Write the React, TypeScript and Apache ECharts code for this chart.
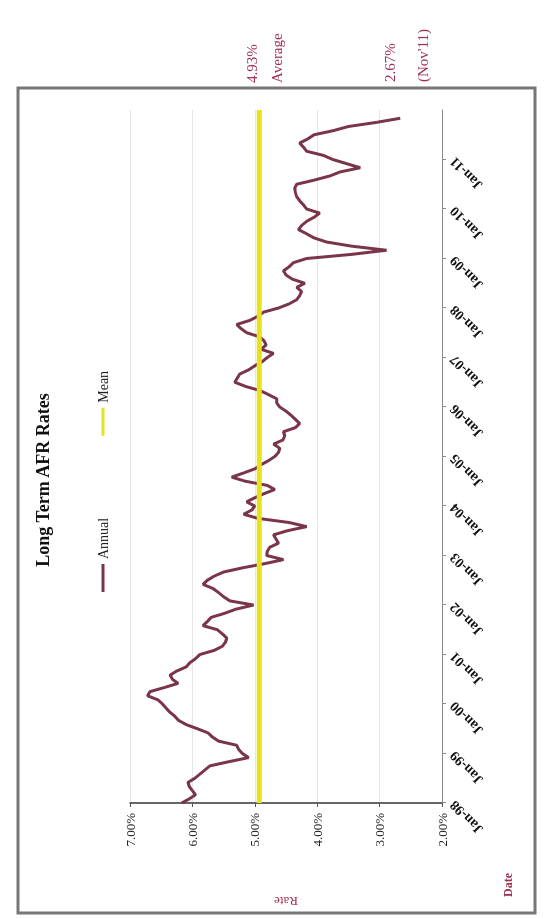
import React, { useEffect, useRef } from "react";
import * as echarts from "echarts";

// ---- data ----
const years = [1998, 1999, 2000, 2001, 2002, 2003, 2004, 2005, 2006, 2007, 2008, 2009, 2010, 2011, 2012];
const monthNames = ["Jan", "Feb", "Mar", "Apr", "May", "Jun", "Jul", "Aug", "Sep", "Oct", "Nov", "Dec"];

// monthly long-term AFR, Jan-98 .. Nov-11
const annualRates = [
  6.17, 6.05, 5.95, 6.0, 6.05, 6.07, 5.96, 5.88, 5.8, 5.72, 5.42, 5.1,
  5.2, 5.26, 5.29, 5.58, 5.68, 5.75, 5.92, 6.1, 6.22, 6.28, 6.36, 6.42,
  6.48, 6.55, 6.72, 6.68, 6.45, 6.23, 6.32, 6.36, 6.25, 6.1, 6.04, 5.95,
  5.88, 5.65, 5.52, 5.47, 5.45, 5.52, 5.6, 5.83, 5.76, 5.7, 5.48, 5.3,
  5.02, 5.4, 5.5, 5.58, 5.67, 5.83, 5.76, 5.65, 5.5, 5.2, 4.85, 4.54,
  4.81, 4.8, 4.76, 4.62, 4.66, 4.7, 4.48, 4.17, 4.45, 4.95, 5.18, 5.05,
  5.0, 5.13, 5.0, 4.85, 4.68, 4.8, 5.15, 5.37, 5.18, 5.0, 4.9, 4.78,
  4.68, 4.62, 4.6, 4.7, 4.55, 4.52, 4.54, 4.35, 4.28, 4.35, 4.42, 4.5,
  4.6, 4.65, 4.65, 4.78, 4.92, 5.15, 5.32, 5.28, 5.24, 5.1, 5.0, 4.88,
  4.8, 4.7, 4.9, 4.82, 4.85, 4.92, 5.13, 5.22, 5.29, 5.08, 4.95, 4.86,
  4.62, 4.45, 4.33, 4.28, 4.25, 4.33, 4.2, 4.4, 4.5, 4.54, 4.45, 4.38,
  4.17, 3.45, 2.89, 3.45, 3.85, 4.05, 4.17, 4.3, 4.25, 4.17, 4.05, 3.96,
  4.17, 4.22, 4.28, 4.33, 4.35, 4.36, 4.33, 4.05, 3.8, 3.63, 3.31, 3.53,
  3.75, 3.9, 4.17, 4.22, 4.28, 4.15, 4.05, 3.74, 3.5, 3.05, 2.67,
];
const meanRate = 4.93;
const lastRate = 2.67;
const lastLabel = "(Nov'11)";
const rateMin = 2;
const rateMax = 7;
const rateStep = 1;

const titleText = "Long Term AFR Rates";
const seriesNames = ["Annual", "Mean"];

// categories Jan-98 .. Jan-12
const categories: string[] = [];
years.forEach((y) => {
  monthNames.forEach((m, i) => {
    if (y === 2012 && i > 0) return;
    categories.push(`${m}-${String(y).slice(2)}`);
  });
});

const SERIF = "'Liberation Serif', 'Times New Roman', serif";
const RED = "#a0304f";
const MAROON = "#7a3548";
const YELLOW = "#e6e31e";

export default function App() {
  const ref = useRef<HTMLDivElement>(null);

  useEffect(() => {
    if (!ref.current) return;
    const chart = echarts.init(ref.current, undefined, { renderer: "svg" });
    const lastIdx = categories.length - 1;
    const showLabel = (index: number) => index % 12 === 0 && index < lastIdx;

    chart.setOption({
      animation: false,
      backgroundColor: "#ffffff",
      textStyle: { fontFamily: SERIF },
      grid: { left: 116, right: 110, top: 130, bottom: 102, containLabel: false },
      legend: {
        data: [
          { name: seriesNames[0], icon: "rect", itemStyle: { color: MAROON } },
          { name: seriesNames[1], icon: "rect", itemStyle: { color: YELLOW } },
        ],
        left: 322,
        top: 91,
        itemGap: 82,
        itemWidth: 28,
        itemHeight: 3,
        textStyle: { fontFamily: SERIF, fontSize: 14, color: "#222" },
      },
      xAxis: {
        type: "category",
        data: categories,
        boundaryGap: false,
        axisLine: { show: true, lineStyle: { color: "#8a8a8a", width: 1 } },
        axisTick: { show: true, interval: showLabel, length: 4, lineStyle: { color: "#8a8a8a" } },
        axisLabel: {
          interval: showLabel,
          rotate: 45,
          margin: 10,
          fontFamily: SERIF,
          fontSize: 14,
          fontWeight: "bold",
          color: "#111",
        },
        splitLine: { show: false },
      },
      yAxis: {
        type: "value",
        min: rateMin,
        max: rateMax,
        interval: rateStep,
        name: "Rate",
        nameLocation: "middle",
        nameGap: 92,
        nameRotate: 90,
        nameTextStyle: { fontFamily: SERIF, fontSize: 13, color: RED },
        axisLine: { show: true, lineStyle: { color: "#333", width: 1.5 } },
        axisTick: { show: true, length: 4, lineStyle: { color: "#555" } },
        axisLabel: {
          formatter: (v: number) => v.toFixed(2) + "%",
          fontFamily: SERIF,
          fontSize: 13,
          margin: 10,
          color: "#222",
        },
        splitLine: { show: true, lineStyle: { color: "#e6e6e6", width: 1 } },
      },
      series: [
        {
          name: seriesNames[0],
          type: "line",
          data: annualRates,
          showSymbol: false,
          symbol: "none",
          lineStyle: { color: MAROON, width: 3 },
          itemStyle: { color: MAROON },
          z: 2,
        },
        {
          name: seriesNames[1],
          type: "line",
          data: [
            [0, meanRate],
            [lastIdx, meanRate],
          ],
          showSymbol: false,
          symbol: "none",
          lineStyle: { color: YELLOW, width: 5 },
          itemStyle: { color: YELLOW },
          z: 3,
        },
      ],
      graphic: [
        {
          type: "rect",
          shape: { x: 6, y: 18, width: 825, height: 517 },
          style: { fill: "none", stroke: "#777", lineWidth: 3 },
          z: 10,
        },
        {
          type: "text",
          x: 439,
          y: 43,
          style: {
            text: titleText,
            fontFamily: SERIF,
            fontSize: 18,
            fontWeight: "bold",
            fill: "#111",
            align: "center",
            verticalAlign: "middle",
          },
        },
        {
          type: "text",
          x: 836,
          y: 252,
          style: { text: meanRate.toFixed(2) + "%", fontFamily: SERIF, fontSize: 15, fill: RED, align: "left", verticalAlign: "middle" },
        },
        {
          type: "text",
          x: 836,
          y: 277,
          style: { text: "Average", fontFamily: SERIF, fontSize: 15, fill: RED, align: "left", verticalAlign: "middle" },
        },
        {
          type: "text",
          x: 837,
          y: 390,
          style: { text: lastRate.toFixed(2) + "%", fontFamily: SERIF, fontSize: 15, fill: RED, align: "left", verticalAlign: "middle" },
        },
        {
          type: "text",
          x: 837,
          y: 423,
          style: { text: lastLabel, fontFamily: SERIF, fontSize: 15, fill: RED, align: "left", verticalAlign: "middle" },
        },
        {
          type: "text",
          x: 34,
          y: 508,
          style: { text: "Date", fontFamily: SERIF, fontSize: 12, fontWeight: "bold", fill: RED, align: "center", verticalAlign: "middle" },
        },
      ],
    });
    return () => chart.dispose();
  }, []);

  return (
    <div
      ref={ref}
      style={{
        position: "fixed",
        left: 0,
        top: 0,
        width: 919,
        height: 544,
        transformOrigin: "0 0",
        transform: "translate(0px, 919px) rotate(-90deg)",
        background: "#fff",
      }}
    />
  );
}
